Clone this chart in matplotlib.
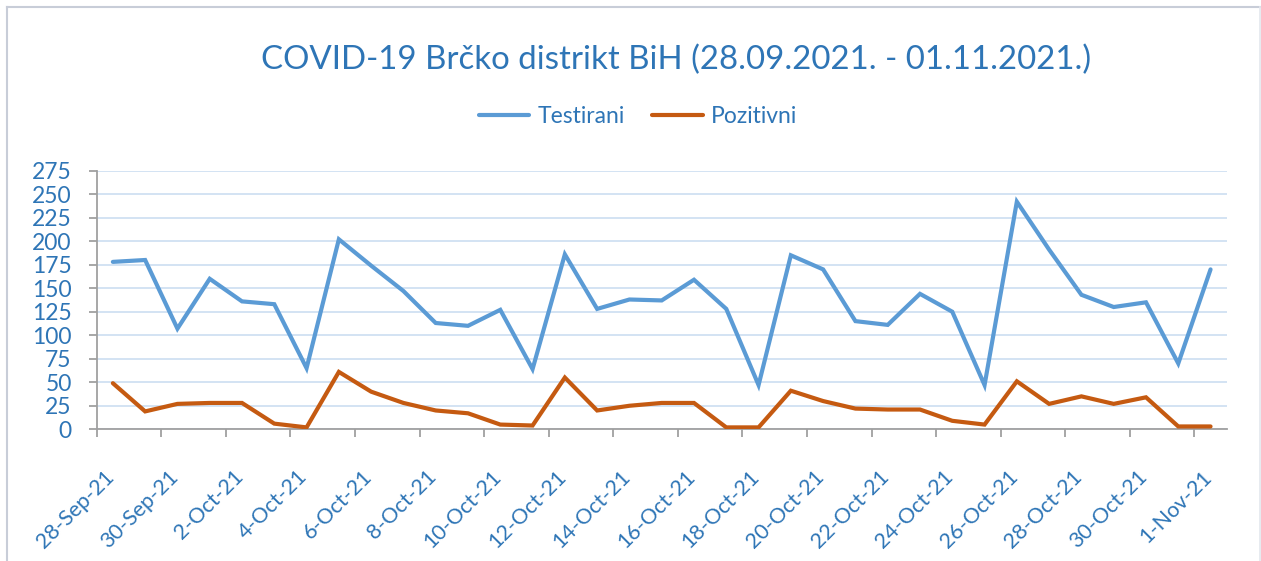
import matplotlib
matplotlib.use("Agg")
import matplotlib.pyplot as plt
from matplotlib.lines import Line2D
from matplotlib.transforms import ScaledTranslation

# daily values, 28-Sep-21 .. 1-Nov-21
testirani = [178, 180, 107, 160, 136, 133, 65, 202, 174, 147,
             113, 110, 127, 64, 186, 128, 138, 137, 159, 128,
             47, 185, 170, 115, 111, 144, 125, 47, 242, 191,
             143, 130, 135, 70, 170]
pozitivni = [49, 19, 27, 28, 28, 6, 2, 61, 40, 28,
             20, 17, 5, 4, 55, 20, 25, 28, 28, 2,
             2, 41, 30, 22, 21, 21, 9, 5, 51, 27,
             35, 27, 34, 3, 3]
tick_labels = ['28-Sep-21', '30-Sep-21', '2-Oct-21', '4-Oct-21', '6-Oct-21',
               '8-Oct-21', '10-Oct-21', '12-Oct-21', '14-Oct-21', '16-Oct-21',
               '18-Oct-21', '20-Oct-21', '22-Oct-21', '24-Oct-21', '26-Oct-21',
               '28-Oct-21', '30-Oct-21', '1-Nov-21']
y_ticks = list(range(0, 276, 25))

title = 'COVID-19 Brčko distrikt BiH (28.09.2021. - 01.11.2021.)'
txt_col = '#2e75b6'
blue = '#5b9bd5'
orange = '#c55a11'
axis_col = '#a0a0a0'
grid_col = '#d0e1f2'

plt.rcParams['font.family'] = ['Lato', 'DejaVu Sans']

fig = plt.figure(figsize=(12.61, 5.61), dpi=100)
ax = fig.add_axes([0.0767, 0.2348, 0.8961, 0.461])

x = [i + 0.5 for i in range(len(testirani))]
ax.plot(x, testirani, color=blue, lw=3, solid_capstyle='round', solid_joinstyle='miter', zorder=3)
ax.plot(x, pozitivni, color=orange, lw=3, solid_capstyle='round', solid_joinstyle='miter', zorder=3)

ax.set_xlim(0, len(testirani))
ax.set_ylim(0, 275)
ax.set_yticks(y_ticks)
ax.set_yticklabels([str(v) for v in y_ticks])
ax.set_xticks(range(0, len(testirani), 2))
ax.set_xticklabels(tick_labels, rotation=45, ha='right', va='center',
                   rotation_mode='anchor')

ax.grid(axis='y', color=grid_col, lw=1.3, zorder=0)
ax.set_axisbelow(True)
for s in ['top', 'right']:
    ax.spines[s].set_visible(False)
for s in ['left', 'bottom']:
    ax.spines[s].set_color(axis_col)
    ax.spines[s].set_linewidth(1.3)

ax.tick_params(axis='y', colors=axis_col, labelcolor=txt_col, labelsize=16.5,
               length=6, width=1.3, pad=12)
ax.tick_params(axis='x', colors=axis_col, labelcolor=txt_col, labelsize=15.5,
               length=6, width=1.3, pad=26)

# excel puts the end of each label a bit right of its tick
# (must come after tick_params, which resets the label transforms)
shift = ScaledTranslation(14 / 100, 0, fig.dpi_scale_trans)
for lab in ax.get_xticklabels():
    lab.set_transform(lab.get_transform() + shift)

fig.text(676 / 1261, 1 - 60 / 561, title, ha='center', va='center',
         fontsize=23.8, color=txt_col)

handles = [Line2D([], [], color=blue, lw=3, solid_capstyle='round'),
           Line2D([], [], color=orange, lw=3, solid_capstyle='round')]
leg = fig.legend(handles, ['Testirani', 'Pozitivni'], loc='center',
                 bbox_to_anchor=(638 / 1261, 1 - 117 / 561), ncol=2,
                 frameon=False, fontsize=16.5, handlelength=2.2,
                 handletextpad=0.35, columnspacing=1.2)
for t in leg.get_texts():
    t.set_color(txt_col)

# chart frame (bottom edge is cut off in the original)
frame = '#c8cdd8'
fig.add_artist(Line2D([7 / 1261, 7 / 1261], [0, 1 - 7 / 561], color=frame, lw=1.5,
                      transform=fig.transFigure))
fig.add_artist(Line2D([7 / 1261, 1259.5 / 1261], [1 - 7 / 561, 1 - 7 / 561], color=frame,
                      lw=1.5, transform=fig.transFigure))
fig.add_artist(Line2D([1259.5 / 1261, 1259.5 / 1261], [0, 1 - 7 / 561], color='#e3e7ee',
                      lw=1.2, transform=fig.transFigure))

fig.savefig('out.png', dpi=100)
